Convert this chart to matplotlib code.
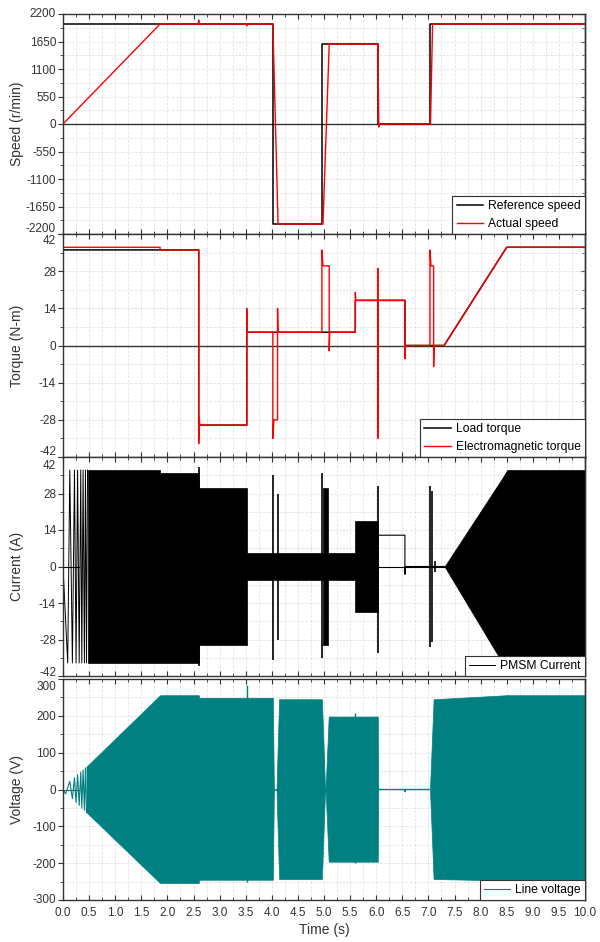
import matplotlib
matplotlib.use("Agg")
import matplotlib.pyplot as plt
import numpy as np
from matplotlib.ticker import MultipleLocator, FuncFormatter, FormatStrFormatter

plt.rcParams['font.family'] = ['Liberation Sans', 'DejaVu Sans']
plt.rcParams['axes.unicode_minus'] = False

# ---- speed (r/min) ----
ref_speed_t = [0, 4.02, 4.02, 4.96, 4.96, 6.03, 6.03, 7.04, 7.04, 10]
ref_speed_v = [2000, 2000, -2000, -2000, 1600, 1600, 0, 0, 2000, 2000]
act_speed_t = [0, 1.86, 2.59, 2.60, 2.61, 3.51, 3.52, 3.53, 4.02, 4.12, 4.98, 5.10, 6.03, 6.05, 6.07, 7.04, 7.08, 10]
act_speed_v = [0, 2000, 2000, 2080, 2000, 2000, 1960, 2000, 2000, -2000, -2000, 1600, 1600, -60, 0, 0, 2000, 2000]

# ---- torque (N-m) ----
load_t = [0, 2.60, 2.60, 3.52, 3.52, 5.60, 5.60, 6.55, 6.55, 7.30, 8.50, 10]
load_v = [36, 36, -30, -30, 5, 5, 17, 17, 0, 0, 37, 37]
te_t = [0, 0.001, 1.86, 1.86, 2.60, 2.60, 2.61, 2.62, 3.52, 3.52, 3.53, 4.02, 4.02, 4.04,
        4.11, 4.11, 4.12, 4.96, 4.96, 4.98, 5.10, 5.10, 5.11, 5.60, 5.60, 5.61, 6.03, 6.03,
        6.03, 6.04, 6.55, 6.55, 6.56, 7.03, 7.03, 7.05, 7.10, 7.10, 7.11, 7.30, 8.50, 10]
te_v = [0, 37, 37, 36, 36, -37, -27, -30, -30, 14, 5, 5, -35, -28,
        -28, 14, 5, 5, 36, 30, 30, -2, 5, 5, 20, 17, 17, 29,
        -35, 17, 17, -5, 0, 0, 36, 30, 30, -8, 0, 0, 37, 37]

# ---- PMSM current (A) ----
cur_chirp_t = [0, 0.09, 0.13, 0.18, 0.22, 0.25, 0.28, 0.31, 0.34, 0.36, 0.385, 0.41, 0.43, 0.45, 0.47]
cur_chirp_v = [0, -37, 37, -37, 37, -37, 37, -37, 37, -37, 37, -37, 37, -37, 37]
cur_env_t = [0.47, 1.86, 1.86, 2.60, 2.60, 3.52, 3.52, 4.98, 4.98, 5.08, 5.08, 5.60, 5.60, 6.03]
cur_env_hi = [37, 37, 36, 36, 30, 30, 5, 5, 30, 30, 5, 5, 17.5, 17.5]
cur_env_lo = [-37, -37, -37, -37, -30, -30, -5, -5, -30, -30, -5, -5, -17.5, -17.5]
cur_ramp_t = [7.31, 8.42, 8.51, 10]
cur_ramp_hi = [0, 34, 37, 37]
cur_ramp_lo = [0, -37, -37, -37]
cur_spike_t = [2.60, 4.02, 4.11, 4.96, 6.03, 7.04, 7.07, 7.12]
cur_spike_hi = [38, 35, 28, 36, 31, 31, 29, 2]
cur_spike_lo = [-38, -36, -28, -35, -33, -31, -29, -2]
cur_dc_t = [6.03, 6.55, 6.55, 6.56, 7.31]
cur_dc_v = [12, 12, -3, 0, 0]
cur_zero_t = [6.03, 7.31]

# ---- line voltage (V) ----
volt_chirp_t = [0, 0.002, 0.004, 0.05, 0.13, 0.18, 0.22, 0.25, 0.28, 0.31, 0.34, 0.36, 0.385, 0.41, 0.43, 0.45]
volt_chirp_v = [0, -150, 0, -12, 22, -25, 32, -35, 40, -43, 47, -50, 53, -56, 59, -62]
volt_env_t = [0.45, 1.86, 2.60, 2.61, 4.02, 4.04, 4.09, 4.14, 4.96, 5.02, 5.03, 5.09, 6.03, 6.04]
volt_env_hi = [62, 256, 256, 249, 249, 0, 0, 245, 245, 0, 0, 198, 198, 0]
volt_env_lo = [-62, -254, -254, -245, -245, 0, 0, -243, -243, 0, 0, -196, -196, 0]
volt_flat_t = [6.04, 6.55, 6.555, 6.56, 7.04]
volt_flat_v = [0, 0, -6, 0, 0]
volt_env2_t = [7.03, 7.10, 8.50, 10]
volt_env2_hi = [0, 245, 256, 256]
volt_env2_lo = [0, -243, -247, -250]
volt_spike_t = [3.52, 5.60]
volt_spike_hi = [285, 209]
volt_spike_lo = [-250, -200]

teal = '#008080'
grey = '#333333'
W, H = 600, 942
fig = plt.figure(figsize=(W / 100, H / 100), dpi=100)


def panel(y_top, y_bot):
    return fig.add_axes([63 / W, 1 - y_bot / H, (585 - 63) / W, (y_bot - y_top) / H])


def style(ax, lim, step, ylabel, top_dy=0, bot_dy=0):
    ax.set_xlim(0, 10)
    ax.set_ylim(-lim, lim)
    ax.xaxis.set_major_locator(MultipleLocator(0.5))
    ax.xaxis.set_minor_locator(MultipleLocator(0.25))
    ticks = np.arange(-lim, lim + 1, step)
    ax.set_yticks(ticks)
    ax.yaxis.set_minor_locator(MultipleLocator(step / 2))
    # end labels are drawn separately so they can be nudged apart
    ax.yaxis.set_major_formatter(FuncFormatter(lambda v, p: '' if abs(v) >= lim else f'{v:g}'))
    for val, dy in ((lim, top_dy), (-lim, bot_dy)):
        ax.annotate(f'{val:g}', xy=(0, val), xycoords=ax.get_yaxis_transform(),
                    xytext=(-5, dy * 0.72), textcoords='offset points',
                    ha='right', va='center', fontsize=8.5, color=grey)
    ax.grid(True, which='both', color='#dcdcdc', linestyle=(0, (4, 2)), linewidth=0.5)
    ax.set_axisbelow(True)
    ax.tick_params(axis='x', which='both', direction='in', top=True, bottom=True,
                   labelbottom=False, color=grey)
    ax.tick_params(axis='y', which='both', direction='out', left=True, right=False,
                   labelsize=8.5, labelcolor=grey, color=grey, pad=1.5)
    ax.tick_params(which='major', length=3.5, width=0.8)
    ax.tick_params(which='minor', length=2, width=0.6)
    sec = ax.secondary_yaxis('right')
    sec.set_yticks(ticks)
    sec.yaxis.set_minor_locator(MultipleLocator(step / 2))
    sec.tick_params(which='both', direction='in', labelright=False, color=grey)
    sec.tick_params(which='major', length=3.5, width=0.8)
    sec.tick_params(which='minor', length=2, width=0.6)
    for s in list(ax.spines.values()) + [sec.spines['right']]:
        s.set_linewidth(1.0)
        s.set_color(grey)
    ax.set_ylabel(ylabel, fontsize=10, color=grey)
    ax.yaxis.set_label_coords(-0.075, 0.5)


def legend(ax):
    leg = ax.legend(loc='lower right', borderaxespad=0, fancybox=False, edgecolor=grey,
                    framealpha=1, fontsize=8.7, handlelength=2.2, borderpad=0.35,
                    labelspacing=0.45, handletextpad=0.4)
    leg.get_frame().set_linewidth(0.8)


# speed
ax1 = panel(14, 234)
ax1.axhline(0, color=grey, linewidth=1)
ax1.plot(ref_speed_t, ref_speed_v, color='black', linewidth=1.1, label='Reference speed')
ax1.plot(act_speed_t, act_speed_v, color='red', linewidth=1.0, label='Actual speed')
style(ax1, 2200, 550, 'Speed (r/min)', top_dy=0, bot_dy=5)
legend(ax1)

# torque
ax2 = panel(234, 457)
ax2.axhline(0, color=grey, linewidth=1)
ax2.plot(load_t, load_v, color='black', linewidth=1.1, label='Load torque')
ax2.plot(te_t, te_v, color='red', linewidth=1.0, label='Electromagnetic torque')
style(ax2, 42, 14, 'Torque (N-m)', top_dy=-7, bot_dy=5)
legend(ax2)

# current
ax3 = panel(457, 676)
ax3.plot([0, 0.3], [0, 0], color='black', linewidth=0.8)
ax3.plot(cur_chirp_t, cur_chirp_v, color='black', linewidth=0.7, label='PMSM Current')
ax3.fill_between(cur_env_t, cur_env_lo, cur_env_hi, color='black', linewidth=0.5, edgecolor='black')
ax3.fill_between(cur_ramp_t, cur_ramp_lo, cur_ramp_hi, color='black', linewidth=0.5, edgecolor='black')
ax3.vlines(cur_spike_t, cur_spike_lo, cur_spike_hi, color='black', linewidth=1.2)
ax3.plot(cur_dc_t, cur_dc_v, color='black', linewidth=0.8)
ax3.plot(cur_zero_t, [0, 0], color='black', linewidth=0.8)
style(ax3, 42, 14, 'Current (A)', top_dy=-9, bot_dy=3)
legend(ax3)

# voltage
ax4 = panel(679, 900)
ax4.plot([0, 0.3], [0, 0], color='#555555', linewidth=0.8)
ax4.plot(volt_chirp_t, volt_chirp_v, color=teal, linewidth=0.8, label='Line voltage')
ax4.fill_between(volt_env_t, volt_env_lo, volt_env_hi, color=teal, linewidth=0.5, edgecolor=teal)
ax4.plot(volt_flat_t, volt_flat_v, color=teal, linewidth=1.0)
ax4.fill_between(volt_env2_t, volt_env2_lo, volt_env2_hi, color=teal, linewidth=0.5, edgecolor=teal)
ax4.vlines(volt_spike_t, volt_spike_lo, volt_spike_hi, color=teal, linewidth=1.0)
style(ax4, 300, 100, 'Voltage (V)', top_dy=-8, bot_dy=0)
ax4.tick_params(axis='x', which='major', labelbottom=True, labelsize=8.5,
                labelcolor=grey, pad=5)
ax4.xaxis.set_major_formatter(FormatStrFormatter('%.1f'))
ax4.set_xlabel('Time (s)', fontsize=10, color=grey, labelpad=3)
legend(ax4)

fig.savefig('out.png', dpi=100)
